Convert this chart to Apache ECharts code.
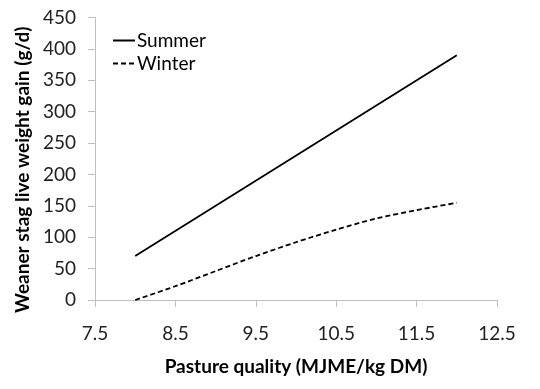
<!DOCTYPE html>
<html>
<head>
<meta charset="utf-8">
<script src="https://cdn.jsdelivr.net/npm/echarts@6/dist/echarts.min.js"></script>
<style>
html,body{margin:0;padding:0;background:#fff;}
#c{width:540px;height:389px;}
</style>
</head>
<body>
<div id="c"></div>
<script>
var xTicks = [7.5, 8.5, 9.5, 10.5, 11.5, 12.5];
var yTicks = [0, 50, 100, 150, 200, 250, 300, 350, 400, 450];
var summerX = [8, 12];
var summerY = [70, 390];
var winterX = [8, 8.5, 9, 9.5, 10, 10.5, 11, 11.5, 12];
var winterY = [0, 22, 46, 70, 92, 112, 130, 143, 155];

var FONT = 'Lato, "Open Sans", sans-serif';
function pairs(xs, ys){ return xs.map(function(x,i){ return [x, ys[i]]; }); }

var chart = echarts.init(document.getElementById('c'), null, {renderer:'canvas'});
chart.setOption({
  animation:false,
  backgroundColor:'#fff',
  grid:{left:95, right:43, top:17.5, bottom:89, containLabel:false},
  legend:{
    orient:'vertical', left:112, top:31, padding:0, itemWidth:22, itemHeight:2, itemGap:4,
    textStyle:{fontFamily:FONT, fontSize:19, color:'#000', padding:[0,0,0,-3]},
    data:[{name:'Summer', icon:'rect'}, {name:'Winter'}]
  },
  xAxis:{
    type:'value', min:7.5, max:12.5,
    name:'Pasture quality (MJME/kg DM)', nameLocation:'middle', nameGap:57,
    nameTextStyle:{fontFamily:FONT, fontSize:19, fontWeight:'bold', color:'#000'},
    axisLine:{show:true, lineStyle:{color:'#bfbfbf', width:1}},
    axisTick:{show:true, length:7, customValues:xTicks, lineStyle:{color:'#bfbfbf'}},
    axisLabel:{customValues:xTicks, margin:24, fontFamily:FONT, fontSize:19, color:'#222'},
    splitLine:{show:false}
  },
  yAxis:{
    type:'value', min:0, max:450, interval:50,
    name:'Weaner stag live weight gain (g/d)', nameLocation:'middle', nameGap:55,
    nameTextStyle:{fontFamily:FONT, fontSize:19, fontWeight:'bold', color:'#000', padding:[0,22,0,0]},
    axisLine:{show:true, lineStyle:{color:'#bfbfbf', width:1}},
    axisTick:{show:true, length:7, lineStyle:{color:'#bfbfbf'}},
    axisLabel:{margin:19, fontFamily:FONT, fontSize:19, color:'#222'},
    splitLine:{show:false}
  },
  series:[
    {name:'Summer', type:'line', data:pairs(summerX, summerY), symbol:'none',
     lineStyle:{color:'#000', width:1.8, type:'solid'}, itemStyle:{color:'#000'}},
    {name:'Winter', type:'line', data:pairs(winterX, winterY), symbol:'none', smooth:0.3,
     lineStyle:{color:'#000', width:1.8, type:[5,3]}, itemStyle:{color:'#000'}}
  ]
});
</script>
</body>
</html>
